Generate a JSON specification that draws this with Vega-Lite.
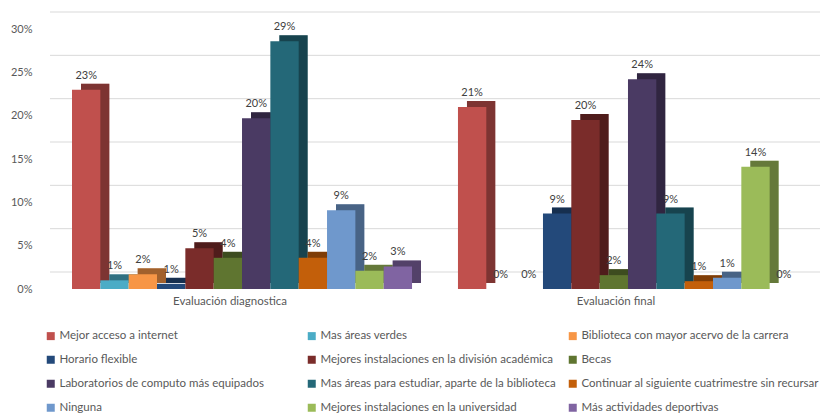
{
  "$schema": "https://vega.github.io/schema/vega-lite/v6.json",
  "width": 770,
  "height": 260,
  "autosize": {"type": "none"},
  "padding": {"left": 50, "top": 29, "right": 8, "bottom": 124},
  "config": {
    "view": {"stroke": null},
    "font": "Lato",
    "legend": {
      "orient": "none",
      "legendX": -5,
      "legendY": 301,
      "columns": 3,
      "direction": "horizontal",
      "symbolType": "square",
      "symbolSize": 64,
      "symbolStrokeWidth": 0,
      "symbolOpacity": 1,
      "labelFontSize": 11.5,
      "labelColor": "#595959",
      "labelLimit": 320,
      "rowPadding": 11,
      "columnPadding": 9,
      "gridAlign": "all",
      "labelOffset": 3,
      "padding": 0
    }
  },
  "data": {
    "values": [
      {"grupo": "Evaluación diagnostica", "opcion": "Mejor acceso a internet", "valor": 0.23},
      {"grupo": "Evaluación diagnostica", "opcion": "Mas áreas verdes", "valor": 0.01},
      {"grupo": "Evaluación diagnostica", "opcion": "Biblioteca con mayor acervo de la carrera", "valor": 0.017},
      {"grupo": "Evaluación diagnostica", "opcion": "Horario flexible", "valor": 0.006},
      {"grupo": "Evaluación diagnostica", "opcion": "Mejores instalaciones en la división académica", "valor": 0.047},
      {"grupo": "Evaluación diagnostica", "opcion": "Becas", "valor": 0.036},
      {"grupo": "Evaluación diagnostica", "opcion": "Laboratorios de computo más equipados", "valor": 0.197},
      {"grupo": "Evaluación diagnostica", "opcion": "Mas áreas para estudiar, aparte de la biblioteca", "valor": 0.286},
      {"grupo": "Evaluación diagnostica", "opcion": "Continuar al siguiente cuatrimestre sin recursar", "valor": 0.036},
      {"grupo": "Evaluación diagnostica", "opcion": "Ninguna", "valor": 0.091},
      {"grupo": "Evaluación diagnostica", "opcion": "Mejores instalaciones en la universidad", "valor": 0.021},
      {"grupo": "Evaluación diagnostica", "opcion": "Más actividades deportivas", "valor": 0.026},
      {"grupo": "Evaluación final", "opcion": "Mejor acceso a internet", "valor": 0.21},
      {"grupo": "Evaluación final", "opcion": "Mas áreas verdes", "valor": 0},
      {"grupo": "Evaluación final", "opcion": "Biblioteca con mayor acervo de la carrera", "valor": 0},
      {"grupo": "Evaluación final", "opcion": "Horario flexible", "valor": 0.087},
      {"grupo": "Evaluación final", "opcion": "Mejores instalaciones en la división académica", "valor": 0.195},
      {"grupo": "Evaluación final", "opcion": "Becas", "valor": 0.016},
      {"grupo": "Evaluación final", "opcion": "Laboratorios de computo más equipados", "valor": 0.242},
      {"grupo": "Evaluación final", "opcion": "Mas áreas para estudiar, aparte de la biblioteca", "valor": 0.087},
      {"grupo": "Evaluación final", "opcion": "Continuar al siguiente cuatrimestre sin recursar", "valor": 0.009},
      {"grupo": "Evaluación final", "opcion": "Ninguna", "valor": 0.013},
      {"grupo": "Evaluación final", "opcion": "Mejores instalaciones en la universidad", "valor": 0.141},
      {"grupo": "Evaluación final", "opcion": "Más actividades deportivas", "valor": 0}
    ]
  },
  "resolve": {"scale": {"xOffset": "independent"}},
  "layer": [
    {
      "data": {"values": [{"g": 0}, {"g": 0.05}, {"g": 0.1}, {"g": 0.15}, {"g": 0.2}, {"g": 0.25}, {"g": 0.3}]},
      "mark": {"type": "rule", "color": "#d9d9d9", "strokeWidth": 1, "yOffset": -17},
      "encoding": {
        "y": {"field": "g", "type": "quantitative", "title": null, "scale": {"domain": [0, 0.3]}}
      }
    },
    {
      "mark": {"type": "bar", "yOffset": -6, "opacity": 1},
      "encoding": {
        "x": {"field": "grupo", "type": "nominal", "title": null, "sort": ["Evaluación diagnostica", "Evaluación final"], "scale": {"paddingInner": 0.119, "paddingOuter": 0.057}},
        "xOffset": {"field": "opcion", "type": "nominal", "sort": ["Mejor acceso a internet", "Mas áreas verdes", "Biblioteca con mayor acervo de la carrera", "Horario flexible", "Mejores instalaciones en la división académica", "Becas", "Laboratorios de computo más equipados", "Mas áreas para estudiar, aparte de la biblioteca", "Continuar al siguiente cuatrimestre sin recursar", "Ninguna", "Mejores instalaciones en la universidad", "Más actividades deportivas"], "scale": {"range": [9, 349], "paddingInner": 0, "paddingOuter": 0}},
        "y": {"field": "valor", "type": "quantitative", "title": null, "scale": {"domain": [0, 0.3]}},
        "color": {"field": "opcion", "type": "nominal", "title": null}
      }
    },
    {
      "mark": {"type": "bar", "yOffset": -6, "color": "#000000", "opacity": 0.35},
      "encoding": {
        "x": {"field": "grupo", "type": "nominal", "title": null, "sort": ["Evaluación diagnostica", "Evaluación final"]},
        "xOffset": {"field": "opcion", "type": "nominal", "sort": ["Mejor acceso a internet", "Mas áreas verdes", "Biblioteca con mayor acervo de la carrera", "Horario flexible", "Mejores instalaciones en la división académica", "Becas", "Laboratorios de computo más equipados", "Mas áreas para estudiar, aparte de la biblioteca", "Continuar al siguiente cuatrimestre sin recursar", "Ninguna", "Mejores instalaciones en la universidad", "Más actividades deportivas"], "scale": {"range": [9, 349], "paddingInner": 0, "paddingOuter": 0}},
        "y": {"field": "valor", "type": "quantitative", "title": null, "scale": {"domain": [0, 0.3]}}
      }
    },
    {
      "mark": {"type": "bar", "opacity": 1},
      "encoding": {
        "x": {"field": "grupo", "type": "nominal", "title": null, "sort": ["Evaluación diagnostica", "Evaluación final"], "axis": {"labelAngle": 0, "labelAlign": "center", "labelFontSize": 11.5, "labelColor": "#595959", "ticks": false, "domain": false, "grid": false, "labelPadding": 12, "labelOffset": -12}},
        "xOffset": {"field": "opcion", "type": "nominal", "sort": ["Mejor acceso a internet", "Mas áreas verdes", "Biblioteca con mayor acervo de la carrera", "Horario flexible", "Mejores instalaciones en la división académica", "Becas", "Laboratorios de computo más equipados", "Mas áreas para estudiar, aparte de la biblioteca", "Continuar al siguiente cuatrimestre sin recursar", "Ninguna", "Mejores instalaciones en la universidad", "Más actividades deportivas"], "scale": {"paddingInner": 0, "paddingOuter": 0}},
        "y": {"field": "valor", "type": "quantitative", "title": null, "scale": {"domain": [0, 0.3]}, "axis": {"format": ".0%", "values": [0, 0.05, 0.1, 0.15, 0.2, 0.25, 0.3], "grid": false, "ticks": false, "domain": false, "labelFontSize": 11, "labelColor": "#595959", "labelPadding": 18}},
        "color": {
          "field": "opcion",
          "type": "nominal",
          "title": null,
          "sort": ["Mejor acceso a internet", "Mas áreas verdes", "Biblioteca con mayor acervo de la carrera", "Horario flexible", "Mejores instalaciones en la división académica", "Becas", "Laboratorios de computo más equipados", "Mas áreas para estudiar, aparte de la biblioteca", "Continuar al siguiente cuatrimestre sin recursar", "Ninguna", "Mejores instalaciones en la universidad", "Más actividades deportivas"],
          "scale": {
            "domain": ["Mejor acceso a internet", "Mas áreas verdes", "Biblioteca con mayor acervo de la carrera", "Horario flexible", "Mejores instalaciones en la división académica", "Becas", "Laboratorios de computo más equipados", "Mas áreas para estudiar, aparte de la biblioteca", "Continuar al siguiente cuatrimestre sin recursar", "Ninguna", "Mejores instalaciones en la universidad", "Más actividades deportivas"],
            "range": ["#C0504D", "#4BACC6", "#F79646", "#23497A", "#7A2C2A", "#5F7530", "#4A3A63", "#246878", "#C35F0A", "#6F98CC", "#9BBB59", "#8064A2"]
          }
        }
      }
    },
    {
      "mark": {"type": "text", "baseline": "bottom", "dy": -9, "fontSize": 11, "color": "#404040"},
      "encoding": {
        "x": {"field": "grupo", "type": "nominal", "title": null, "sort": ["Evaluación diagnostica", "Evaluación final"]},
        "xOffset": {"field": "opcion", "type": "nominal", "sort": ["Mejor acceso a internet", "Mas áreas verdes", "Biblioteca con mayor acervo de la carrera", "Horario flexible", "Mejores instalaciones en la división académica", "Becas", "Laboratorios de computo más equipados", "Mas áreas para estudiar, aparte de la biblioteca", "Continuar al siguiente cuatrimestre sin recursar", "Ninguna", "Mejores instalaciones en la universidad", "Más actividades deportivas"], "scale": {"type": "band", "paddingInner": 0, "paddingOuter": 0}},
        "y": {"field": "valor", "type": "quantitative", "title": null, "scale": {"domain": [0, 0.3]}},
        "text": {"field": "valor", "type": "quantitative", "format": ".0%"}
      }
    }
  ]
}
